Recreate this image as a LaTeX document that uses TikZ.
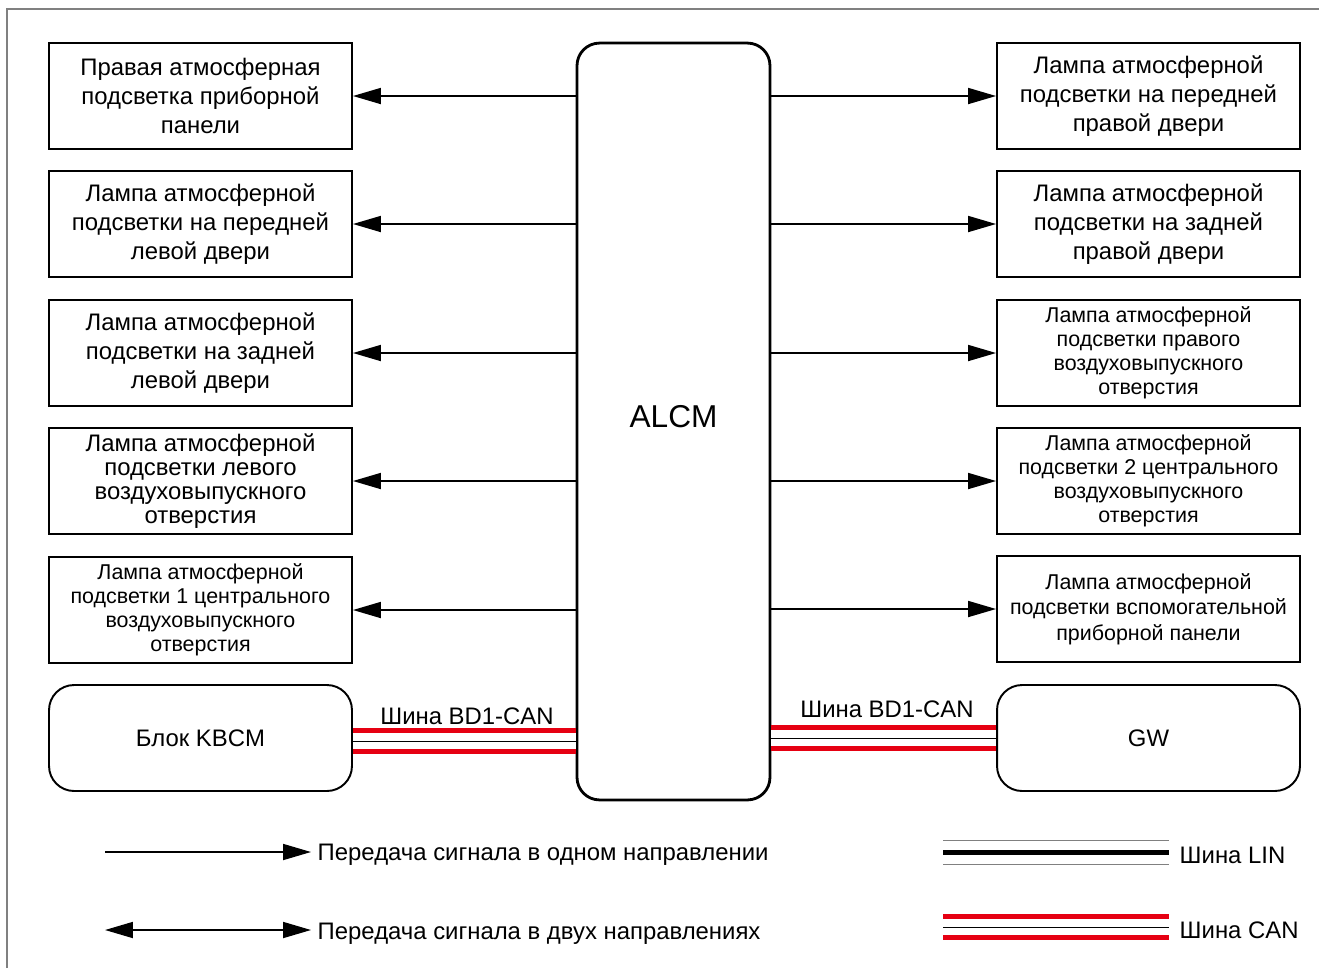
\documentclass[tikz,border=0pt]{standalone}
\usepackage{fontspec}
\setmainfont{Liberation Sans}
\usepackage{xcolor}
\usepackage{tikz}
\usetikzlibrary{arrows.meta}
\definecolor{canred}{RGB}{230,0,18}
\tikzset{
	lamp/.style={draw,line width=1.1pt,minimum width=6.06cm,minimum height=2.12cm,inner sep=0pt,align=center,font=\fontsize{13.6}{16.5}\selectfont},
	small lamp/.style={lamp,font=\fontsize{12.2}{13.7}\selectfont},
	tight lamp/.style={lamp,font=\fontsize{13.6}{13.7}\selectfont},
	ecu box/.style={lamp,rounded corners=0.5cm},
	main node/.style={draw,line width=1.6pt,rounded corners=0.45cm,minimum width=3.86cm,minimum height=15.14cm,text depth=0.2cm,font=\fontsize{18}{21}\selectfont},
	legend text/.style={font=\fontsize{13.6}{16.5}\selectfont},
	can bus/.style={-,draw=black,line width=0.5pt,preaction={draw=canred,line width=0.52cm},preaction={draw=white,line width=0.32cm}},
	lin bus/.style={-,draw=black,line width=0.1cm,preaction={draw=gray,line width=0.5cm},preaction={draw=white,line width=0.46cm}}
}

\begin{document}
\begin{tikzpicture}[->,>={Triangle[length=0.56cm,width=0.32cm]},x=0.02cm,y=-0.02cm,line width=1pt]
      \useasboundingbox (0,0) rectangle (1319,968);
      \draw[-,gray,line width=1.2pt] (7,968) -- (7,9) -- (1319,9);

      \node[main node] (alcm) at (673.5,421.5) {ALCM};

      \node[lamp] (l1) at (200.5,96) {Правая атмосферная\\подсветка приборной\\панели};
      \node[lamp] (l2) at (200.5,224) {Лампа атмосферной\\подсветки на передней\\левой двери};
      \node[lamp] (l3) at (200.5,353) {Лампа атмосферной\\подсветки на задней\\левой двери};
      \node[tight lamp] (l4) at (200.5,481) {Лампа атмосферной\\подсветки левого\\воздуховыпускного\\отверстия};
      \node[small lamp] (l5) at (200.5,610) {Лампа атмосферной\\подсветки 1 центрального\\воздуховыпускного\\отверстия};
      \node[ecu box] (l6) at (200.5,738) {Блок KBCM};

      \node[lamp] (r1) at (1148.5,96) {Лампа атмосферной\\подсветки на передней\\правой двери};
      \node[lamp] (r2) at (1148.5,224) {Лампа атмосферной\\подсветки на задней\\правой двери};
      \node[small lamp] (r3) at (1148.5,353) {Лампа атмосферной\\подсветки правого\\воздуховыпускного\\отверстия};
      \node[small lamp] (r4) at (1148.5,481) {Лампа атмосферной\\подсветки 2 центрального\\воздуховыпускного\\отверстия};
      \node[lamp,font=\fontsize{12.2}{14.5}\selectfont] (r5) at (1148.5,609) {Лампа атмосферной\\подсветки вспомогательной\\приборной панели};
      \node[ecu box] (r6) at (1148.5,738) {GW};

      \path
        (alcm.west |- l1) edge (l1.east)
        (alcm.west |- l2) edge (l2.east)
        (alcm.west |- l3) edge (l3.east)
        (alcm.west |- l4) edge (l4.east)
        (alcm.west |- l5) edge (l5.east)
        (alcm.east |- r1) edge (r1.west)
        (alcm.east |- r2) edge (r2.west)
        (alcm.east |- r3) edge (r3.west)
        (alcm.east |- r4) edge (r4.west)
        (alcm.east |- r5) edge (r5.west);

      % BD1-CAN buses
      \draw[can bus] ([yshift=-0.06cm]l6.east) -- ([yshift=-0.06cm]l6.east -| alcm.west);
      \draw[can bus] (r6.west) -- (r6.west -| alcm.east);
      \node[legend text,anchor=base] (c1) at (467,724) {Шина BD1-CAN};
      \node[legend text,anchor=base] (c2) at (887,717) {Шина BD1-CAN};

      % legend
      \coordinate (a0) at (105,852);
      \node[legend text,anchor=west] (a1) at (311,855) {Передача сигнала в одном направлении};
      \path (a0) edge (a1.west |- a0);
      \coordinate (b0) at (105,930);
      \node[legend text,anchor=west] (b1) at (311,934) {Передача сигнала в двух направлениях};
      \path (b0) edge[<->] (b1.west |- b0);

      \coordinate (lin0) at (943,852.5);
      \node[legend text,anchor=west] (lin) at (1173,855) {Шина LIN};
      \draw[lin bus] (lin0) -- (lin0 -| 1169,0);
      \coordinate (can0) at (943,927);
      \node[legend text,anchor=west] (can) at (1173,930) {Шина CAN};
      \draw[can bus] (can0) -- (can0 -| 1169,0);
\end{tikzpicture}
\end{document}
